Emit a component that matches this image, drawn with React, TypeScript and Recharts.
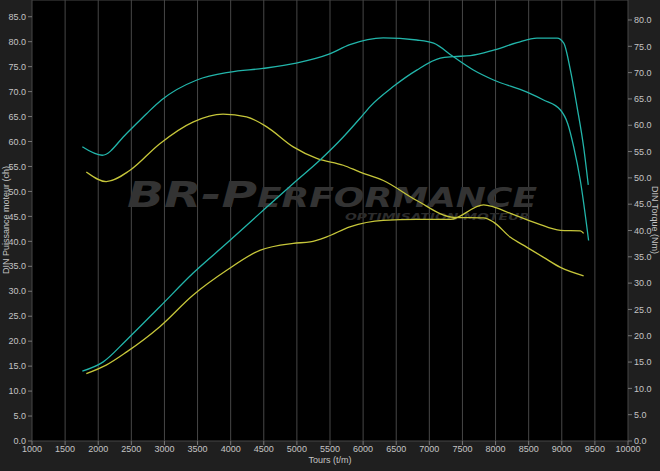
import { LineChart, Line, XAxis, YAxis, CartesianGrid, Customized } from "recharts"

// tick values
const rpmTicks = [1000, 1500, 2000, 2500, 3000, 3500, 4000, 4500, 5000, 5500, 6000, 6500, 7000, 7500, 8000, 8500, 9000, 9500, 10000]
const chTicks = [0, 5, 10, 15, 20, 25, 30, 35, 40, 45, 50, 55, 60, 65, 70, 75, 80, 85]
const nmTicks = [0, 5, 10, 15, 20, 25, 30, 35, 40, 45, 50, 55, 60, 65, 70, 75, 80]

// stage (cyan) power, ch
const stagePowerRpm = [1760, 2070, 2425, 2930, 3430, 3940, 4440, 4945, 5350, 5700, 5950, 6105, 6455, 6810, 7165, 7365, 7620, 7970, 8325, 8625, 8930, 9030, 9130, 9230, 9330, 9400]
const stagePowerCh = [14.0, 15.8, 20.2, 26.9, 33.6, 39.6, 45.6, 51.6, 56.3, 60.9, 64.6, 67.0, 71.0, 74.3, 76.7, 77.0, 77.2, 78.3, 79.8, 80.7, 80.7, 79.7, 74.3, 67.0, 58.9, 51.3]

// stage (cyan) torque, Nm
const stageTorqueRpm = [1760, 2060, 2425, 2730, 2955, 3490, 3990, 4490, 4990, 5485, 5800, 6305, 6810, 7065, 7365, 7665, 7970, 8475, 8725, 8980, 9090, 9180, 9280, 9405]
const stageTorqueNm = [55.9, 54.3, 58.4, 62.2, 64.8, 68.6, 70.1, 70.8, 71.8, 73.5, 75.3, 76.6, 76.2, 75.6, 73.0, 70.5, 68.6, 66.3, 64.8, 62.9, 60.3, 55.9, 49.5, 38.1]

// original (yellow) power, ch
const origPowerRpm = [1820, 2120, 2425, 2930, 3430, 3940, 4440, 4945, 5200, 5450, 5800, 6305, 6810, 7315, 7820, 7970, 8225, 8625, 8980, 9280, 9330]
const origPowerCh = [13.5, 15.2, 17.8, 22.9, 29.2, 34.2, 38.2, 39.6, 39.9, 40.9, 42.9, 44.2, 44.4, 44.4, 47.3, 46.9, 45.6, 43.6, 42.2, 42.1, 41.6]

// original (yellow) torque, Nm
const origTorqueRpm = [1820, 2120, 2475, 2930, 3430, 3885, 4240, 4545, 4945, 5300, 5700, 5955, 6305, 6810, 7365, 7820, 7970, 8225, 8475, 8725, 8980, 9330]
const origTorqueNm = [51.1, 49.3, 51.4, 56.5, 60.6, 62.1, 61.6, 59.7, 55.9, 53.7, 52.4, 51.1, 49.5, 45.7, 42.5, 42.4, 41.6, 38.7, 36.8, 34.9, 33.0, 31.4]

const toPoints = (rpm: number[], vals: number[]) => rpm.map((r, i) => ({ rpm: r, v: vals[i] }))

const CYAN = "#22b5aa"
const YELLOW = "#c6c63a"
const TEXT = "#c4c4c4"
const font = "'Liberation Sans', Arial, sans-serif"

const Watermark = () => (
  <g style={{ pointerEvents: "none" }}>
    <text
      x={127}
      y={207}
      textLength={410}
      lengthAdjust="spacingAndGlyphs"
      fill="#333333"
      fontFamily="'DejaVu Sans', sans-serif"
      fontWeight="bold"
      fontStyle="italic"
    >
      <tspan fontSize={35}>BR-P</tspan>
      <tspan fontSize={26}>ERFORMANCE</tspan>
    </text>
    <text
      x={345}
      y={220}
      textLength={185}
      lengthAdjust="spacingAndGlyphs"
      fill="#2c2c2c"
      fontFamily="'DejaVu Sans', sans-serif"
      fontWeight="bold"
      fontStyle="italic"
      fontSize={9}
    >
      OPTIMISATION MOTEUR
    </text>
  </g>
)

export default function App() {
  return (
    <div style={{ position: "absolute", left: 0, top: 0, width: 660, height: 471, background: "#1f1f1f" }}>
      <LineChart width={660} height={471} margin={{ top: 0, right: 0, bottom: 0, left: 0 }}>
        <CartesianGrid stroke="#474747" fill="#000000" strokeWidth={1} />
        <XAxis
          type="number"
          dataKey="rpm"
          domain={[1000, 10000]}
          ticks={rpmTicks}
          interval={0}
          height={30}
          axisLine={false}
          tickSize={4}
          tickLine={{ stroke: "#777" }}
          tick={{ fill: TEXT, fontSize: 9, fontFamily: font }}
          tickMargin={1}
          allowDataOverflow
        />
        <YAxis
          yAxisId="left"
          type="number"
          domain={[0, 88.35]}
          ticks={chTicks}
          interval={0}
          width={32}
          axisLine={false}
          tickSize={4}
          tickLine={{ stroke: "#777" }}
          tick={{ fill: TEXT, fontSize: 9, fontFamily: font }}
          tickFormatter={(v: number) => v.toFixed(1)}
          allowDataOverflow
        />
        <YAxis
          yAxisId="right"
          orientation="right"
          type="number"
          domain={[0, 83.8]}
          ticks={nmTicks}
          interval={0}
          width={32}
          axisLine={false}
          tickSize={4}
          tickLine={{ stroke: "#777" }}
          tick={{ fill: TEXT, fontSize: 9, fontFamily: font }}
          tickFormatter={(v: number) => v.toFixed(1)}
          allowDataOverflow
        />
        <Customized component={Watermark} />
        <Line yAxisId="right" data={toPoints(origTorqueRpm, origTorqueNm)} dataKey="v" type="monotone" stroke={YELLOW} strokeWidth={1.3} dot={false} isAnimationActive={false} />
        <Line yAxisId="left" data={toPoints(origPowerRpm, origPowerCh)} dataKey="v" type="monotone" stroke={YELLOW} strokeWidth={1.3} dot={false} isAnimationActive={false} />
        <Line yAxisId="right" data={toPoints(stageTorqueRpm, stageTorqueNm)} dataKey="v" type="monotone" stroke={CYAN} strokeWidth={1.3} dot={false} isAnimationActive={false} />
        <Line yAxisId="left" data={toPoints(stagePowerRpm, stagePowerCh)} dataKey="v" type="monotone" stroke={CYAN} strokeWidth={1.3} dot={false} isAnimationActive={false} />
      </LineChart>
      <div style={{ position: "absolute", left: -1, top: 0, width: 14, height: 440, display: "flex", alignItems: "center", justifyContent: "center" }}>
        <div style={{ transform: "rotate(-90deg)", whiteSpace: "nowrap", color: TEXT, fontSize: 9, fontFamily: font }}>DIN Puissance moteur (ch)</div>
      </div>
      <div style={{ position: "absolute", left: 648, top: 0, width: 14, height: 440, display: "flex", alignItems: "center", justifyContent: "center" }}>
        <div style={{ transform: "rotate(90deg)", whiteSpace: "nowrap", color: TEXT, fontSize: 9, fontFamily: font }}>DIN Torque (Nm)</div>
      </div>
      <div style={{ position: "absolute", left: 0, top: 455, width: 660, textAlign: "center", color: TEXT, fontSize: 9, fontFamily: font }}>Tours (t/m)</div>
    </div>
  )
}
